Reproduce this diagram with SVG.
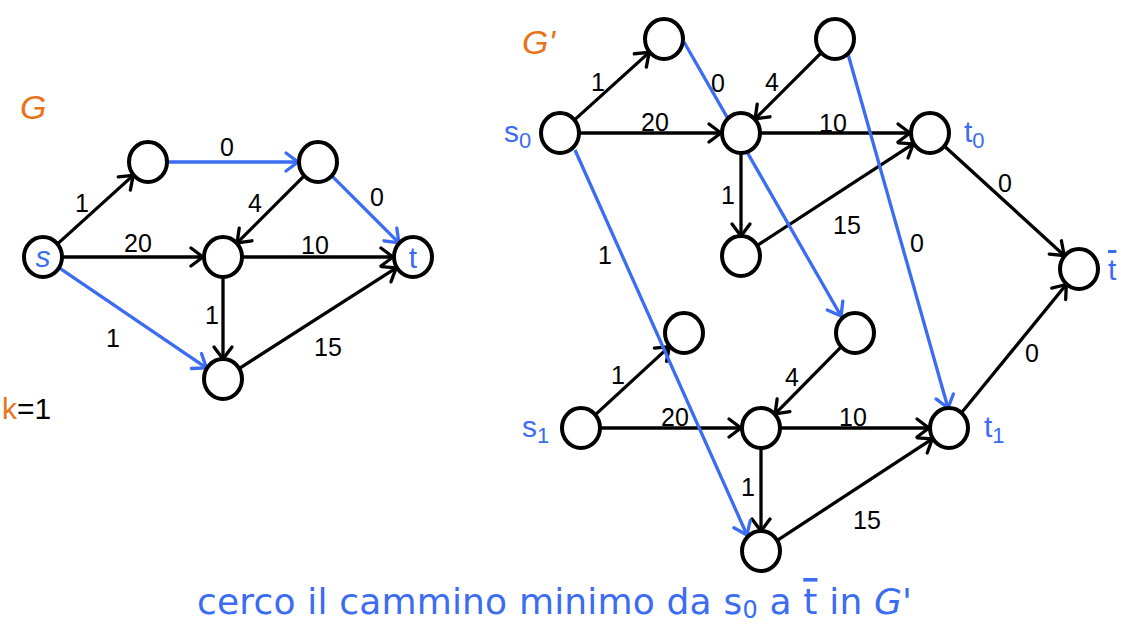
<svg xmlns="http://www.w3.org/2000/svg" width="1140" height="627" viewBox="0 0 1140 627">
<style>
.n{fill:#fff;stroke:#000;stroke-width:4}
.e{fill:none;stroke:#000;stroke-width:3.3;marker-end:url(#ak)}
.b{fill:none;stroke:#3b6cf2;stroke-width:3.3;marker-end:url(#ab)}
.w{font-family:"Liberation Sans",Arial,sans-serif;font-size:25px;fill:#000;text-anchor:middle}
.nl{font-family:"Liberation Sans",Arial,sans-serif;font-size:30px;fill:#3b6cf2}
.sub{font-size:22px}
.or{font-family:"Liberation Sans",Arial,sans-serif;font-size:34px;fill:#e8741a;font-style:italic}
.cap{font-family:"DejaVu Sans",Verdana,sans-serif;font-size:36px;fill:#3b6cf2}
</style>
<defs>
<marker id="ak" viewBox="-15 -12 18 24" refX="0" refY="0" markerWidth="18" markerHeight="24" markerUnits="userSpaceOnUse" orient="auto"><path d="M-12,-9 L0,0 L-12,9" fill="none" stroke="#000" stroke-width="3.3" stroke-linecap="round" stroke-linejoin="round"/></marker>
<marker id="ab" viewBox="-15 -12 18 24" refX="0" refY="0" markerWidth="18" markerHeight="24" markerUnits="userSpaceOnUse" orient="auto"><path d="M-12,-9 L0,0 L-12,9" fill="none" stroke="#3b6cf2" stroke-width="3.3" stroke-linecap="round" stroke-linejoin="round"/></marker>
</defs>
<rect width="1140" height="627" fill="#fff"/>

<!-- titles -->
<text class="or" x="20" y="119">G</text>
<text x="2" y="419" font-family="Liberation Sans,Arial,sans-serif" font-size="30"><tspan fill="#e8741a">k</tspan><tspan fill="#000">=1</tspan></text>
<text class="or" x="522" y="54">G'</text>

<!-- connectors -->
<g id="connectors">
<!-- left graph -->
<line class="e" x1="57.8" y1="243.6" x2="133.2" y2="175.4"/>
<line class="b" x1="168" y1="162" x2="298" y2="162"/>
<line class="e" x1="303.9" y1="176.1" x2="237.1" y2="242.9"/>
<line class="b" x1="332.1" y1="176.1" x2="398.9" y2="242.9"/>
<line class="e" x1="63" y1="257" x2="203" y2="257"/>
<line class="e" x1="243" y1="257" x2="393" y2="257"/>
<line class="e" x1="223" y1="277" x2="223" y2="359"/>
<line class="b" x1="59.6" y1="268.2" x2="206.4" y2="367.8"/>
<line class="e" x1="239.8" y1="368.2" x2="396.2" y2="267.8"/>
<!-- right graph, copy 0 -->
<line class="e" x1="574.8" y1="119.6" x2="649.2" y2="52.4"/>
<line class="e" x1="580" y1="133" x2="721" y2="133"/>
<line class="e" x1="820.9" y1="53.1" x2="755.1" y2="118.9"/>
<line class="e" x1="761" y1="133" x2="910" y2="133"/>
<line class="e" x1="741" y1="153" x2="741" y2="236"/>
<line class="e" x1="757.8" y1="245.1" x2="913.2" y2="143.9"/>
<line class="e" x1="944.8" y1="146.5" x2="1064.2" y2="255.5"/>
<!-- right graph, copy 1 -->
<line class="e" x1="595.7" y1="414.4" x2="669.3" y2="346.6"/>
<line class="e" x1="601" y1="428" x2="741" y2="428"/>
<line class="e" x1="840.9" y1="347.2" x2="775.1" y2="413.8"/>
<line class="e" x1="781" y1="428" x2="929" y2="428"/>
<line class="e" x1="761" y1="448" x2="761" y2="531"/>
<line class="e" x1="777.7" y1="540.1" x2="932.3" y2="438.9"/>
<line class="e" x1="961.7" y1="412.5" x2="1066.3" y2="284.5"/>
<!-- blue cross edges -->
<line class="b" x1="575" y1="150" x2="747" y2="535"/>
<line class="b" x1="684" y1="42" x2="841" y2="316"/>
<line class="b" x1="848" y1="54" x2="948" y2="408"/>
</g>

<!-- edge labels -->
<g id="edge-labels" class="w">
<text x="82" y="212">1</text>
<text x="227" y="156">0</text>
<text x="255" y="212">4</text>
<text x="377" y="206">0</text>
<text x="138" y="252">20</text>
<text x="315" y="254">10</text>
<text x="212" y="324">1</text>
<text x="113" y="347">1</text>
<text x="328" y="356">15</text>

<text x="598" y="91">1</text>
<text x="655" y="131">20</text>
<text x="718" y="92">0</text>
<text x="772" y="91">4</text>
<text x="833" y="132">10</text>
<text x="728" y="204">1</text>
<text x="847" y="234">15</text>
<text x="917" y="252">0</text>
<text x="1005" y="192">0</text>
<text x="605" y="264">1</text>

<text x="618" y="384">1</text>
<text x="675" y="426">20</text>
<text x="792" y="386">4</text>
<text x="853" y="426">10</text>
<text x="1032" y="362">0</text>
<text x="748" y="496">1</text>
<text x="867" y="529">15</text>
</g>

<!-- left graph nodes -->
<g id="G-s"><ellipse class="n" cx="43" cy="257" rx="19" ry="20"/><text class="nl" x="43" y="267" text-anchor="middle" font-size="28" font-style="italic">s</text></g>
<g id="G-a"><ellipse class="n" cx="148" cy="162" rx="19" ry="20"/></g>
<g id="G-b"><ellipse class="n" cx="318" cy="162" rx="19" ry="20"/></g>
<g id="G-c"><ellipse class="n" cx="223" cy="257" rx="19" ry="20"/></g>
<g id="G-t"><ellipse class="n" cx="413" cy="257" rx="19" ry="20"/><text class="nl" x="413" y="268" text-anchor="middle" font-size="28">t</text></g>
<g id="G-d"><ellipse class="n" cx="223" cy="379" rx="19" ry="20"/></g>

<!-- right graph nodes -->
<g id="s0"><ellipse class="n" cx="560" cy="133" rx="19" ry="20"/><text class="nl" x="504" y="142">s<tspan class="sub" dy="6">0</tspan></text></g>
<g id="n1"><ellipse class="n" cx="664" cy="39" rx="19" ry="20"/></g>
<g id="n2"><ellipse class="n" cx="835" cy="39" rx="19" ry="20"/></g>
<g id="m0"><ellipse class="n" cx="741" cy="133" rx="19" ry="20"/></g>
<g id="t0"><ellipse class="n" cx="930" cy="133" rx="19" ry="20"/><text class="nl" x="964" y="142">t<tspan class="sub" dy="6">0</tspan></text></g>
<g id="l0"><ellipse class="n" cx="741" cy="256" rx="19" ry="20"/></g>
<g id="tbar"><ellipse class="n" cx="1079" cy="269" rx="19" ry="20"/><text class="nl" x="1108" y="280" text-decoration="overline">t</text></g>
<g id="n3"><ellipse class="n" cx="684" cy="333" rx="19" ry="20"/></g>
<g id="n4"><ellipse class="n" cx="855" cy="333" rx="19" ry="20"/></g>
<g id="s1"><ellipse class="n" cx="581" cy="428" rx="19" ry="20"/><text class="nl" x="522" y="437">s<tspan class="sub" dy="6">1</tspan></text></g>
<g id="m1"><ellipse class="n" cx="761" cy="428" rx="19" ry="20"/></g>
<g id="t1"><ellipse class="n" cx="949" cy="428" rx="19" ry="20"/><text class="nl" x="984" y="437">t<tspan class="sub" dy="6">1</tspan></text></g>
<g id="l1"><ellipse class="n" cx="761" cy="551" rx="19" ry="20"/></g>

<!-- caption -->
<text class="cap" x="197" y="614" textLength="715" lengthAdjust="spacing">cerco il cammino minimo da s<tspan font-size="24" dy="4">0</tspan><tspan dy="-4"> a </tspan><tspan text-decoration="overline">t</tspan> in <tspan font-style="italic">G'</tspan></text>
</svg>
